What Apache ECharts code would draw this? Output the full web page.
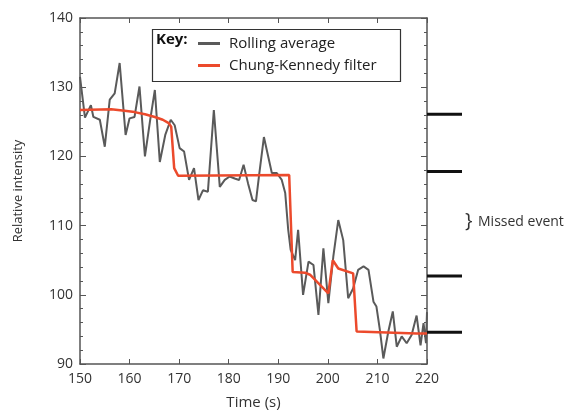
<!DOCTYPE html>
<html>
<head>
<meta charset="utf-8">
<script src="https://cdn.jsdelivr.net/npm/echarts@6/dist/echarts.min.js"></script>
<style>
  html, body { margin: 0; padding: 0; background: #fff; }
  #chart { width: 573px; height: 416px; }
</style>
</head>
<body>
<div id="chart"></div>
<script>
// rolling average (grey trace)
var raTime = [150, 151.0, 152.2, 152.7, 154.0, 155.0, 156.0, 157.0, 158.0, 159.2, 160.0, 161.0, 162.0, 163.1, 164.1,
  165.1, 166.1, 167.2, 168.3, 169.1, 170.1, 171.0, 172.0, 173.0, 173.9, 174.8, 175.8, 177.0, 178.2, 179.2,
  180.2, 181.2, 182.1, 183.0, 183.9, 184.8, 185.5, 186.1, 187.1, 188.7, 189.7, 190.7, 191.4, 192.0, 192.5,
  193.4, 194.0, 195.0, 196.1, 197.1, 198.1, 199.1, 200.1, 201.1, 202.1, 203.1, 204.1, 205.1, 206.1, 207.2,
  208.2, 209.2, 209.8, 210.5, 211.2, 212.2, 213.1, 213.9, 214.9, 215.9, 216.9, 217.9, 218.7, 219.3, 219.8, 220];
var raValue = [131.5, 125.6, 127.4, 125.7, 125.3, 121.4, 128.2, 129.1, 133.5, 123.1, 125.5, 125.7, 130.1, 120.0, 125.0,
  129.6, 119.2, 123.1, 125.3, 124.5, 121.2, 120.7, 116.6, 118.3, 113.7, 115.1, 114.9, 126.7, 115.6, 116.6,
  117.1, 116.8, 116.6, 118.8, 116.1, 113.7, 113.5, 117.1, 122.8, 117.6, 117.6, 116.6, 114.7, 109.4, 106.5,
  105.0, 109.4, 100.0, 104.8, 104.3, 97.1, 106.7, 98.8, 105.5, 110.8, 107.9, 99.5, 100.9, 103.6, 104.1,
  103.6, 99.0, 98.3, 94.9, 90.8, 94.7, 97.6, 92.5, 94.0, 93.0, 94.2, 97.0, 92.7, 95.9, 93.0, 97.5];

// Chung-Kennedy filter (red trace)
var ckTime = [150, 156.3, 159.0, 161.0, 163.1, 165.1, 166.7, 167.9, 168.4, 169.0, 169.8, 192.2, 192.9, 195.4, 196.4,
  200.1, 201.0, 202.1, 205.1, 205.8, 217.9, 220];
var ckValue = [126.7, 126.8, 126.6, 126.4, 126.1, 125.7, 125.3, 124.8, 124.3, 118.3, 117.2, 117.3, 103.3, 103.2, 102.9,
  100.2, 105.0, 103.8, 103.1, 94.7, 94.4, 94.4];

// levels marked to the right of the plot
var levels = [126.1, 117.8, 102.7, 94.6];

var xTicks = [150, 160, 170, 180, 190, 200, 210, 220];
var yTicks = [90, 100, 110, 120, 130, 140];

function pairs(xs, ys) {
  var out = [];
  for (var i = 0; i < xs.length; i++) out.push([xs[i], ys[i]]);
  return out;
}

var font = '"Open Sans", sans-serif';
var axisColor = '#555';
var grey = '#5a5a5a';
var red = '#ec4a2c';
var yMin = yTicks[0], yMax = yTicks[yTicks.length - 1];

// short inside ticks every 2 units, no labels
function minorYAxis(pos) {
  return {
    type: 'value', gridIndex: 0, position: pos,
    min: yMin, max: yMax, interval: 2,
    axisLine: { show: false },
    axisTick: { show: true, inside: true, length: 3, lineStyle: { color: axisColor } },
    axisLabel: { show: false },
    splitLine: { show: false }
  };
}

var levelSeries = [];
for (var i = 0; i < levels.length; i++) {
  levelSeries.push({
    type: 'line',
    xAxisIndex: 2,
    yAxisIndex: 4,
    data: [[0, levels[i]], [1, levels[i]]],
    symbol: 'none',
    silent: true,
    lineStyle: { color: '#111', width: 3 }
  });
}

var chart = echarts.init(document.getElementById('chart'));
chart.setOption({
  animation: false,
  backgroundColor: '#fff',
  textStyle: { fontFamily: font },
  grid: [
    { left: 80, top: 18, width: 347, height: 346 },
    { left: 427, top: 18, width: 35, height: 346 }
  ],
  xAxis: [
    {
      type: 'value', gridIndex: 0, position: 'bottom',
      min: xTicks[0], max: xTicks[xTicks.length - 1], interval: 10,
      name: 'Time (s)', nameLocation: 'middle', nameGap: 31,
      nameTextStyle: { fontSize: 15, color: '#333', fontFamily: font },
      axisLine: { show: true, lineStyle: { color: axisColor, width: 1.5 } },
      axisTick: { show: true, inside: true, length: 5, lineStyle: { color: axisColor } },
      axisLabel: { fontSize: 14, color: '#333', margin: 8, fontFamily: font },
      splitLine: { show: false }
    },
    {
      type: 'value', gridIndex: 0, position: 'top',
      min: xTicks[0], max: xTicks[xTicks.length - 1], interval: 10,
      axisLine: { show: true, lineStyle: { color: axisColor, width: 1.5 } },
      axisTick: { show: true, inside: true, length: 5, lineStyle: { color: axisColor } },
      axisLabel: { show: false },
      splitLine: { show: false }
    },
    {
      type: 'value', gridIndex: 1, min: 0, max: 1, show: false
    }
  ],
  yAxis: [
    {
      type: 'value', gridIndex: 0, position: 'left',
      min: yMin, max: yMax, interval: 10,
      name: 'Relative intensity', nameLocation: 'middle', nameGap: 55,
      nameTextStyle: { fontSize: 13, color: '#333', fontFamily: font },
      axisLine: { show: true, lineStyle: { color: axisColor, width: 1.5 } },
      axisTick: { show: true, inside: true, length: 6, lineStyle: { color: axisColor } },
      axisLabel: { fontSize: 14, color: '#333', margin: 7, fontFamily: font },
      splitLine: { show: false }
    },
    {
      type: 'value', gridIndex: 0, position: 'right',
      min: yMin, max: yMax, interval: 10,
      axisLine: { show: true, lineStyle: { color: axisColor, width: 1.5 } },
      axisTick: { show: true, inside: true, length: 6, lineStyle: { color: axisColor } },
      axisLabel: { show: false },
      splitLine: { show: false }
    },
    minorYAxis('left'),
    minorYAxis('right'),
    {
      type: 'value', gridIndex: 1, min: yMin, max: yMax, show: false
    }
  ],
  legend: {
    orient: 'vertical',
    left: 193, top: 31,
    itemWidth: 22, itemHeight: 3, itemGap: 7,
    icon: 'rect',
    textStyle: { fontSize: 15, color: '#222', fontFamily: font, padding: [0, 0, 0, 4] },
    data: ['Rolling average', 'Chung-Kennedy filter']
  },
  graphic: [
    {
      type: 'rect', left: 150, top: 27,
      shape: { width: 248, height: 52 },
      style: { fill: 'none', stroke: '#333', lineWidth: 1.2 }
    },
    {
      type: 'text', left: 156, top: 32,
      style: { text: 'Key:', font: 'bold 15px ' + font, fill: '#111' }
    },
    {
      type: 'text', left: 465, top: 211,
      style: { text: '}', font: '20px ' + font, fill: '#333' }
    },
    {
      type: 'text', left: 478, top: 215,
      style: { text: 'Missed event', font: '14px ' + font, fill: '#333' }
    }
  ],
  series: [
    {
      name: 'Rolling average',
      type: 'line',
      xAxisIndex: 0, yAxisIndex: 0,
      data: pairs(raTime, raValue),
      symbol: 'none',
      itemStyle: { color: grey },
      lineStyle: { color: grey, width: 2 }
    },
    {
      name: 'Chung-Kennedy filter',
      type: 'line',
      xAxisIndex: 0, yAxisIndex: 0,
      data: pairs(ckTime, ckValue),
      symbol: 'none',
      itemStyle: { color: red },
      lineStyle: { color: red, width: 2.5 }
    }
  ].concat(levelSeries)
});
</script>
</body>
</html>
